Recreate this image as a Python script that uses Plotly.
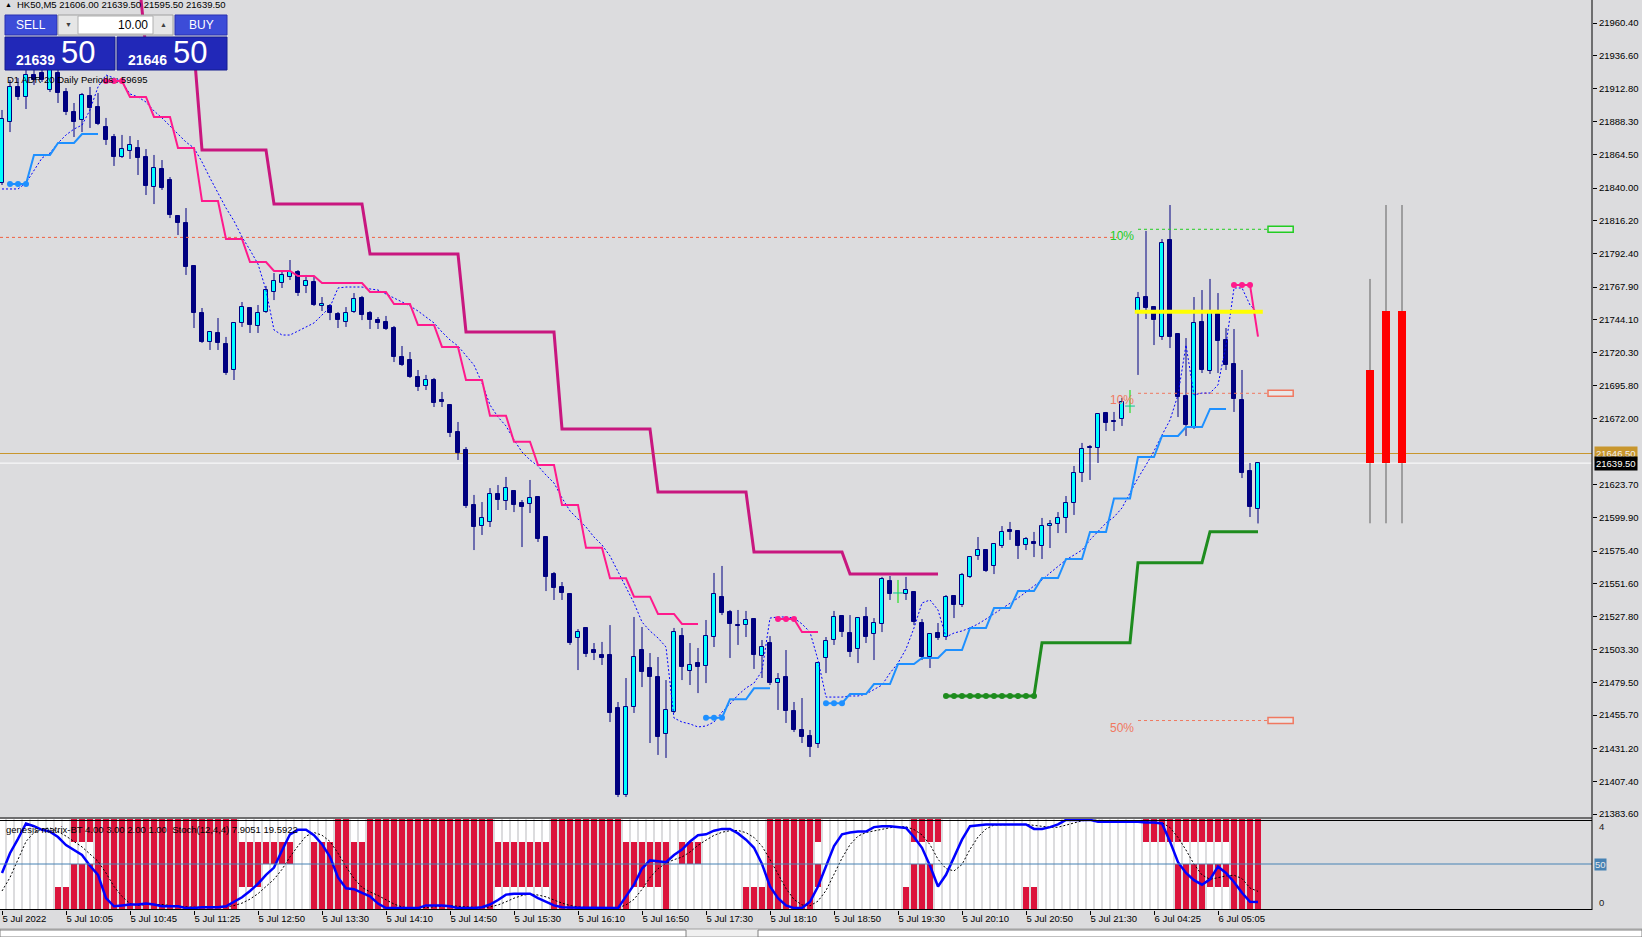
import plotly.graph_objects as go

# ---------------- DATA ----------------
O = [21843.8, 21888.2, 21913.8, 21906.5, 21922.5, 21924.0, 21911.6, 21924.0, 21910.1, 21895.5,
     21889.7, 21907.2, 21899.2, 21884.6, 21877.3, 21862.7, 21867.1, 21869.3, 21862.7, 21840.8,
     21854.0, 21845.9, 21819.7, 21814.6, 21783.2, 21749.0, 21727.8, 21734.4, 21726.4, 21707.4,
     21741.7, 21752.6, 21739.5, 21749.7, 21764.3, 21770.8, 21775.2, 21778.9, 21768.7, 21771.6,
     21754.1, 21754.1, 21748.2, 21742.4, 21749.7, 21759.9, 21749.0, 21743.8, 21742.4, 21738.0,
     21716.9, 21714.7, 21702.3, 21695.7, 21700.1, 21685.5, 21681.9, 21662.2, 21649.1, 21609.0,
     21593.6, 21596.6, 21617.0, 21611.9, 21619.2, 21610.4, 21609.7, 21614.8, 21585.6, 21558.6,
     21549.2, 21544.1, 21512.0, 21519.3, 21503.2, 21499.6, 21499.6, 21460.9, 21397.5, 21461.6,
     21503.2, 21490.1, 21483.5, 21442.0, 21458.0, 21513.4, 21487.9, 21493.7, 21491.5, 21512.7,
     21541.9, 21530.9, 21521.4, 21521.4, 21525.8, 21498.8, 21508.3, 21479.1, 21483.5, 21458.7,
     21444.9, 21440.5, 21434.7, 21497.4, 21510.5, 21528.0, 21515.6, 21503.9, 21527.3, 21514.9,
     21522.2, 21553.5, 21544.8, 21544.1, 21545.5, 21522.9, 21498.1, 21515.6, 21512.7, 21542.6,
     21536.0, 21556.5, 21571.8, 21576.1, 21564.5, 21579.1, 21590.7, 21590.0, 21579.8, 21582.0,
     21579.1, 21593.6, 21595.1, 21599.5, 21610.4, 21632.3, 21651.2, 21650.5, 21676.0, 21670.2,
     21671.7, 21681.1, 21749.7, 21760.6, 21753.3, 21731.5, 21802.2, 21733.6, 21688.4, 21665.8,
     21742.4, 21706.7, 21748.2, 21729.3, 21711.8, 21685.5, 21633.7, 21606.0]
H = [21897.0, 21918.9, 21920.3, 21926.2, 21926.2, 21926.2, 21927.6, 21926.2, 21913.0, 21902.1,
     21909.4, 21913.8, 21909.4, 21891.2, 21879.5, 21878.8, 21878.0, 21875.1, 21868.5, 21864.2,
     21860.5, 21848.1, 21819.7, 21825.5, 21783.2, 21752.6, 21735.1, 21745.3, 21731.5, 21742.4,
     21757.0, 21753.3, 21754.8, 21768.7, 21778.1, 21779.6, 21787.6, 21780.3, 21776.7, 21775.2,
     21760.6, 21755.5, 21749.7, 21753.3, 21763.5, 21761.4, 21750.4, 21746.0, 21746.8, 21739.5,
     21724.9, 21720.5, 21707.4, 21703.8, 21701.6, 21691.4, 21681.9, 21669.5, 21651.2, 21616.3,
     21611.1, 21621.3, 21623.5, 21629.4, 21619.9, 21612.6, 21627.2, 21614.8, 21585.6, 21560.1,
     21552.8, 21544.8, 21518.5, 21519.3, 21508.3, 21509.1, 21521.4, 21465.3, 21482.8, 21527.3,
     21520.0, 21501.0, 21498.1, 21481.3, 21519.3, 21519.3, 21508.3, 21504.7, 21525.1, 21559.4,
     21564.5, 21532.4, 21532.4, 21531.7, 21525.8, 21510.5, 21513.4, 21486.4, 21503.2, 21465.3,
     21468.2, 21444.9, 21494.5, 21512.7, 21531.7, 21528.7, 21528.7, 21527.3, 21534.6, 21526.5,
     21556.5, 21557.2, 21554.3, 21556.5, 21545.5, 21525.8, 21515.6, 21522.9, 21543.3, 21543.3,
     21559.4, 21571.0, 21585.6, 21576.1, 21580.5, 21593.6, 21596.6, 21590.7, 21585.6, 21589.3,
     21599.5, 21598.0, 21603.8, 21615.5, 21637.4, 21654.2, 21652.7, 21676.0, 21676.8, 21676.8,
     21687.0, 21692.8, 21764.3, 21808.8, 21753.3, 21802.9, 21827.7, 21733.6, 21730.7, 21760.6,
     21765.7, 21773.8, 21763.5, 21738.0, 21737.3, 21707.4, 21639.6, 21639.5]
L = [21842.3, 21880.9, 21904.3, 21897.7, 21915.2, 21917.4, 21910.1, 21902.1, 21893.3, 21877.3,
     21880.9, 21883.9, 21886.0, 21871.5, 21856.2, 21862.0, 21861.3, 21849.6, 21835.0, 21828.4,
     21838.7, 21818.2, 21805.8, 21776.7, 21738.0, 21727.1, 21722.0, 21722.0, 21703.8, 21700.1,
     21738.8, 21734.4, 21734.4, 21749.0, 21758.4, 21767.2, 21773.0, 21761.4, 21763.5, 21754.1,
     21750.4, 21743.8, 21738.0, 21738.8, 21749.0, 21743.8, 21737.3, 21737.3, 21736.6, 21713.2,
     21710.3, 21701.6, 21692.1, 21692.8, 21680.4, 21680.4, 21658.5, 21641.8, 21606.8, 21576.1,
     21587.1, 21592.9, 21605.3, 21605.3, 21603.8, 21578.3, 21603.1, 21582.0, 21546.2, 21539.7,
     21539.7, 21506.9, 21488.6, 21498.1, 21495.9, 21492.3, 21450.7, 21396.0, 21396.0, 21457.3,
     21476.2, 21435.4, 21426.7, 21424.5, 21457.3, 21481.3, 21477.7, 21471.8, 21479.1, 21505.4,
     21528.7, 21497.4, 21506.9, 21512.7, 21489.4, 21482.8, 21477.7, 21459.5, 21450.0, 21443.4,
     21435.4, 21425.2, 21431.8, 21486.4, 21506.9, 21512.7, 21498.1, 21493.7, 21508.3, 21495.9,
     21516.3, 21539.7, 21537.5, 21539.7, 21521.4, 21495.9, 21490.1, 21510.5, 21510.5, 21526.5,
     21534.6, 21555.7, 21568.9, 21560.1, 21558.6, 21577.6, 21583.5, 21569.6, 21576.1, 21571.0,
     21569.6, 21577.6, 21588.5, 21588.5, 21601.7, 21625.7, 21627.2, 21639.6, 21662.9, 21662.9,
     21666.6, 21676.0, 21703.8, 21744.6, 21725.6, 21729.3, 21723.4, 21673.1, 21659.3, 21664.4,
     21705.2, 21704.5, 21705.2, 21707.4, 21676.8, 21628.6, 21600.2, 21595.5]
C = [21890.4, 21913.8, 21906.5, 21922.5, 21918.9, 21918.9, 21926.2, 21909.4, 21895.5, 21888.2,
     21907.9, 21898.4, 21886.8, 21875.1, 21862.7, 21868.5, 21871.5, 21862.0, 21841.6, 21854.7,
     21840.1, 21820.4, 21814.6, 21782.5, 21749.0, 21727.8, 21735.1, 21727.1, 21705.2, 21741.7,
     21753.3, 21740.2, 21749.0, 21765.7, 21772.3, 21776.7, 21778.9, 21763.5, 21772.3, 21754.8,
     21755.5, 21749.0, 21743.8, 21749.0, 21759.2, 21747.5, 21743.8, 21741.7, 21737.3, 21716.9,
     21711.0, 21702.3, 21695.0, 21700.1, 21683.3, 21684.1, 21661.5, 21646.9, 21608.2, 21592.9,
     21599.5, 21617.0, 21612.6, 21621.3, 21609.0, 21607.5, 21614.1, 21584.2, 21556.5, 21548.4,
     21544.8, 21508.3, 21516.3, 21500.3, 21501.0, 21497.4, 21457.3, 21397.5, 21461.6, 21498.1,
     21487.2, 21483.5, 21439.8, 21459.5, 21516.3, 21490.8, 21492.3, 21490.8, 21513.4, 21544.1,
     21530.2, 21522.2, 21520.9, 21525.1, 21499.6, 21505.4, 21479.1, 21482.1, 21458.7, 21444.9,
     21439.8, 21432.5, 21493.7, 21509.8, 21527.3, 21516.3, 21501.8, 21526.5, 21512.7, 21522.9,
     21555.0, 21544.1, 21544.8, 21547.0, 21523.6, 21498.1, 21514.9, 21512.0, 21541.9, 21536.0,
     21557.9, 21571.0, 21576.1, 21560.8, 21580.5, 21589.3, 21589.3, 21579.1, 21584.2, 21580.5,
     21593.6, 21595.1, 21599.5, 21610.4, 21632.3, 21649.8, 21650.5, 21675.3, 21668.8, 21669.5,
     21684.1, 21681.1, 21759.9, 21752.6, 21743.8, 21800.0, 21731.5, 21687.7, 21667.3, 21741.7,
     21707.4, 21749.0, 21728.5, 21711.0, 21686.2, 21632.3, 21607.5, 21639.5]

# smoothed trailing line (blue dashed)
trail_mid = [21839.4, 21839.4, 21839.4, 21843.8, 21852.5, 21862.0, 21865.6, 21872.9, 21878.8, 21883.1,
             21886.0, 21897.0, 21913.8, 21922.5, 21920.3, 21917.4, 21908.7, 21906.5, 21902.8, 21896.3,
             21891.2, 21885.3, 21879.5, 21873.6, 21869.3, 21859.1, 21847.4, 21836.5, 21825.5, 21816.1,
             21804.4, 21794.9, 21784.7, 21765.7, 21736.6, 21732.9, 21732.9, 21735.8, 21738.8, 21741.7,
             21747.5, 21753.3, 21767.2, 21767.9, 21767.9, 21767.9, 21766.5, 21765.7, 21762.8, 21759.9,
             21757.0, 21754.1, 21750.4, 21746.0, 21741.7, 21735.1, 21729.3, 21724.9, 21718.3, 21711.0,
             21697.9, 21681.9, 21673.1, 21666.6, 21656.4, 21647.6, 21641.8, 21637.4, 21630.8, 21625.0,
             21614.1, 21604.6, 21598.7, 21592.9, 21585.6, 21579.8, 21571.8, 21560.1, 21548.4, 21537.5,
             21523.6, 21517.1, 21512.0, 21505.4, 21453.6, 21450.7, 21449.3, 21447.1, 21447.8, 21450.7,
             21458.0, 21463.8, 21470.4, 21475.5, 21479.1, 21487.9, 21526.5, 21527.3, 21527.3, 21526.5,
             21522.2, 21516.3, 21495.9, 21468.9, 21468.9, 21468.9, 21469.7, 21469.7, 21471.1, 21474.1,
             21477.7, 21486.4, 21493.7, 21503.9, 21519.3, 21537.5, 21539.7, 21532.4, 21512.7, 21515.6,
             21517.1, 21519.3, 21522.2, 21525.8, 21529.5, 21533.8, 21537.5, 21541.1, 21545.5, 21549.9,
             21554.3, 21559.4, 21564.5, 21568.9, 21572.5, 21576.1, 21583.5, 21589.3, 21595.8, 21600.2,
             21606.8, 21617.7, 21628.6, 21638.1, 21648.3, 21660.0, 21670.9, 21689.2, 21725.6, 21689.2,
             21690.6, 21690.6, 21696.5, 21725.6, 21767.2, 21767.2, 21754.8, 21749.0]

# upper stop line (thin pink) segments: (first bar index, values)
pink_segments = [
    (13, [21918.1]*3 + [21906.5]*3 + [21891.9]*3 + [21869.3]*3 + [21830.6]*3 + [21802.9]*3 +
         [21786.1]*3 + [21779.6]*3 + [21775.9]*3 + [21770.8]*6 + [21764.3]*3 + [21755.5]*3 +
         [21740.2]*3 + [21724.2]*3 + [21700.1]*3 + [21674.1]*3 + [21655.1]*3 + [21638.1]*3 +
         [21609.0]*3 + [21577.8]*3 + [21555.5]*3 + [21542.1]*3 + [21529.5]*3 + [21522.2]*3),
    (97, [21525.8]*3 + [21516.3]*3),
    (154, [21769.4]*3 + [21731.7]),
]
# slow upper stop (thick magenta)
slow_stop_start = 17
slow_stop = ([22000.0] + [21940.7]*7 + [21867.8]*9 + [21828.4]*12 + [21792.0]*12 + [21735.1]*12 +
             [21664.4]*12 + [21618.4]*12 + [21574.7]*12 + [21558.6]*12)
# lower stop line (dodger blue) segments
blue_segments = [
    (1, [21843.0]*3 + [21864.2]*3 + [21872.9]*3 + [21879.5]*3),
    (88, [21453.8]*3 + [21467.3]*3 + [21475.3]*3),
    (103, [21464.4]*3 + [21471.1]*3 + [21478.4]*3 + [21493.0]*3 + [21497.4]*3 + [21503.2]*3 +
          [21519.3]*3 + [21533.8]*3 + [21546.2]*3 + [21555.7]*3 + [21569.6]*3 + [21589.3]*3 +
          [21613.7]*3 + [21643.9]*3 + [21659.3]*3 + [21665.8]*3 + [21679.0]*3),
]
# slow lower stop (green)
green_start = 118
green_stop = [21469.7]*12 + [21508.5]*12 + [21566.9]*9 + [21589.5]*7
green_dot_count = 12

pivot_level = 21749.9          # yellow
pivot_from = 142
ask_price, bid_price = 21646.5, 21639.5
adr_old_level = 21804.1        # red dashed, left part
adr_levels = [21810.0, 21690.4, 21451.8]
adr_level_colors = ['#22CC22', '#F07860', '#F07860']
adr_level_labels = ['10%', '10%', '50%']
adr_level_from = 142

# daily range bars to the right of the last bar (bars after the last candle)
range_offsets = [14, 16, 18]
range_body_lo = [21639.5, 21639.5, 21639.5]
range_body_hi = [21707.4, 21750.4, 21750.4]
range_wick_lo = [21595.6, 21595.6, 21595.6]
range_wick_hi = [21773.8, 21827.7, 21827.7]

# indicator window: genesis matrix rows (runs of bearish/red bars) + stochastic
matrix_red_runs = {
    1: [(7, 29), (39, 61), (69, 78), (83, 83), (93, 101), (113, 116), (128, 129), (147, 150), (154, 157)],
    2: [(9, 32), (39, 83), (96, 102), (114, 116), (147, 157)],
    3: [(12, 36), (39, 83), (85, 87), (96, 101), (154, 157)],
    4: [(9, 29), (42, 43), (46, 61), (69, 77), (96, 102), (114, 117), (143, 157)],
}
stoch_main = [40, 62, 78, 95, 92, 88, 86, 80, 71, 65,
              60, 48, 38, 12, 3, 4, 5, 5, 6, 5,
              3, 3, 3, 1, 1, 2, 2, 2, 3, 8,
              13, 20, 28, 38, 46, 65, 83, 88, 88, 82,
              72, 58, 35, 23, 22, 18, 14, 6, 1, 1,
              1, 1, 1, 4, 4, 4, 3, 1, 1, 1,
              2, 5, 10, 16, 17, 17, 17, 12, 8, 4,
              2, 1.5, 1.5, 1.5, 1.5, 1.5, 1.5, 1, 14, 27,
              45, 54, 53, 52, 60, 66, 75, 82, 83, 87,
              89, 89, 84, 77, 68, 50, 25, 12, 4, 1,
              1, 8, 25, 48, 70, 83, 85, 86, 86, 91,
              92, 92, 91, 90, 80, 68, 48, 25, 38, 58,
              77, 92, 93, 94, 94, 94, 94, 94, 94, 89,
              89, 91, 94, 99, 99, 99, 99, 97, 97, 97,
              97, 97, 97, 96, 96, 95, 75, 52, 40, 32,
              27, 33, 47, 40, 30, 18, 8, 7.9051]
stoch_signal = [20, 35, 55, 75, 85, 89, 90, 86, 81, 75,
                69, 61, 53, 40, 25, 14, 6, 4, 5, 5,
                5, 4, 3, 2.5, 2, 1.5, 1.5, 2, 2.3, 3.8,
                6.5, 11, 17, 25, 33, 44, 58, 70, 81, 85,
                82, 75, 62, 47, 34, 24, 19, 15, 10, 5.5,
                2.3, 1, 1, 1.8, 2.5, 3.3, 3.8, 3, 2.3, 1.5,
                1.3, 2.3, 4.5, 8, 12, 15, 16.8, 15.5, 13.5, 10,
                6.5, 3.9, 2.3, 1.6, 1.5, 1.5, 1.5, 1.4, 4.5, 10.8,
                21.8, 35, 44.8, 51, 54.8, 57.8, 63.3, 70.8, 76.5, 81.8,
                85.3, 87, 87.3, 84.8, 79.5, 69.8, 55, 38.8, 22.8, 10.5,
                4.5, 3.5, 8.8, 20.5, 37.8, 56.5, 71.5, 81, 85, 87,
                88.8, 90.3, 91.5, 91.3, 88.3, 82.3, 71.5, 55.3, 44.8, 42.3,
                49.5, 66.3, 80, 89, 93.3, 93.8, 94, 94, 94, 92.8,
                91.5, 90.8, 90.8, 93.3, 95.8, 98, 99, 98.5, 98, 97.5,
                97, 97, 97, 96.8, 96.5, 96, 90.5, 79.5, 65.5, 49.8,
                37.8, 33, 34.8, 36.8, 37.5, 33.8, 23.3, 19.5922]

time_labels = ["5 Jul 2022", "5 Jul 10:05", "5 Jul 10:45", "5 Jul 11:25", "5 Jul 12:50",
               "5 Jul 13:30", "5 Jul 14:10", "5 Jul 14:50", "5 Jul 15:30", "5 Jul 16:10",
               "5 Jul 16:50", "5 Jul 17:30", "5 Jul 18:10", "5 Jul 18:50", "5 Jul 19:30",
               "5 Jul 20:10", "5 Jul 20:50", "5 Jul 21:30", "6 Jul 04:25", "6 Jul 05:05"]
bars_per_label = 8
price_ticks = [21960.40, 21936.60, 21912.80, 21888.30, 21864.50, 21840.00, 21816.20, 21792.40,
               21767.90, 21744.10, 21720.30, 21695.80, 21672.00, 21623.70, 21599.90, 21575.40,
               21551.60, 21527.80, 21503.30, 21479.50, 21455.70, 21431.20, 21407.40, 21383.60]

symbol_line = "HK50,M5 21606.00 21639.50 21595.50 21639.50"
adr_text = "D1 ADR 20 Daily Periods : 59695"
ind_text = "genesis matrix-BT 4.00 3.00 2.00 1.00  Stoch(12,4,4) 7.9051 19.5922"
lot_text = "10.00"
sell_big, sell_small = "50", "21639"
buy_big, buy_small = "50", "21646"

# ---------------- FIGURE ----------------
W, HGT = 1642, 937
MR, MB = 50, 27
PW, PH = W - MR, HGT - MB
FONT = "Liberation Sans"
BG = "#DCDCDE"
NAVY, CYAN = "#000080", "#00FFFF"
N = len(O)
idx = list(range(N))


def fx(p):
    return p / PW


def fy(p):
    return 1 - p / PH


fig = go.Figure()

bull = [k for k in idx if C[k] > O[k]]
bear = [k for k in idx if C[k] < O[k]]
doji = [k for k in idx if C[k] == O[k]]


def wicks(ks, full=False):
    xs, ys = [], []
    for k in ks:
        top, bot = max(O[k], C[k]), min(O[k], C[k])
        if full:
            xs += [k, k, None]; ys += [L[k], H[k], None]
            continue
        if H[k] > top:
            xs += [k, k, None]; ys += [top, H[k], None]
        if L[k] < bot:
            xs += [k, k, None]; ys += [bot, L[k], None]
    return xs, ys


wx, wy = wicks(bull + bear)
fig.add_trace(go.Scatter(x=wx, y=wy, mode="lines", line=dict(color=NAVY, width=1), hoverinfo="skip"))
dx, dy = wicks(doji, full=True)
fig.add_trace(go.Scatter(x=dx, y=dy, mode="lines", line=dict(color="#00E000", width=1), hoverinfo="skip"))
fig.add_trace(go.Scatter(x=doji, y=[O[k] for k in doji], mode="markers",
                         marker=dict(symbol="line-ew-open", size=7, line=dict(color="#00E000", width=1))))
fig.add_trace(go.Bar(x=bull, y=[C[k] - O[k] for k in bull], base=[O[k] for k in bull], width=0.62,
                     marker=dict(color=CYAN, line=dict(color=NAVY, width=1))))
fig.add_trace(go.Bar(x=bear, y=[O[k] - C[k] for k in bear], base=[C[k] for k in bear], width=0.62,
                     marker=dict(color=NAVY, line=dict(color=NAVY, width=1))))

# daily range bars
rx = [N - 1 + o for o in range_offsets]
fig.add_trace(go.Bar(x=rx, y=[h - l for h, l in zip(range_body_hi, range_body_lo)], base=range_body_lo,
                     width=0.96, marker=dict(color="#FF0000", line=dict(width=0))))
rwx, rwy = [], []
for x, bl, bh, wl, wh in zip(rx, range_body_lo, range_body_hi, range_wick_lo, range_wick_hi):
    rwx += [x, x, None, x, x, None]
    rwy += [bh, wh, None, wl, bl, None]
fig.add_trace(go.Scatter(x=rwx, y=rwy, mode="lines", line=dict(color="#606060", width=1)))

# ADR level lines
fig.add_trace(go.Scatter(x=[-1, adr_level_from - 2.6], y=[adr_old_level]*2, mode="lines",
                         line=dict(color="#F06040", width=1, dash="3px,3px")))
for lv, col in zip(adr_levels, adr_level_colors):
    fig.add_trace(go.Scatter(x=[adr_level_from, N + 0.25], y=[lv, lv], mode="lines",
                             line=dict(color=col, width=1, dash="3px,3px")))

# blue dashed trailing line
fig.add_trace(go.Scatter(x=idx, y=trail_mid, mode="lines", line=dict(color="#0000FF", width=1, dash="2px,2px")))

# slow magenta stop
fig.add_trace(go.Scatter(x=list(range(slow_stop_start, slow_stop_start + len(slow_stop))), y=slow_stop,
                         mode="lines", line=dict(color="#C8177F", width=3)))

# pink stops
for s, vals in pink_segments:
    xs = list(range(s, s + len(vals)))
    fig.add_trace(go.Scatter(x=xs, y=vals, mode="lines", line=dict(color="#FF1A8C", width=2)))
    fig.add_trace(go.Scatter(x=xs[:3], y=vals[:3], mode="markers",
                             marker=dict(color="#FF1A8C", size=6)))
# blue stops
for s, vals in blue_segments:
    xs = list(range(s, s + len(vals)))
    fig.add_trace(go.Scatter(x=xs, y=vals, mode="lines", line=dict(color="#1E90FF", width=2)))
    fig.add_trace(go.Scatter(x=xs[:3], y=vals[:3], mode="markers",
                             marker=dict(color="#1E90FF", size=6)))
# green stop
gx = list(range(green_start, green_start + len(green_stop)))
fig.add_trace(go.Scatter(x=gx, y=green_stop, mode="lines", line=dict(color="#1E8C1E", width=3)))
fig.add_trace(go.Scatter(x=gx[:green_dot_count], y=green_stop[:green_dot_count], mode="markers",
                         marker=dict(color="#1E8C1E", size=6)))
# yellow pivot
fig.add_trace(go.Scatter(x=[pivot_from - 0.4, N - 0.4], y=[pivot_level]*2, mode="lines",
                         line=dict(color="#FFFF00", width=4)))

# ---- indicator window ----
fig.add_trace(go.Bar(x=idx, y=[4]*N, base=[0]*N, width=0.86, marker=dict(color="white", line=dict(width=0)),
                     xaxis="x2", yaxis="y2"))
for row, runs in matrix_red_runs.items():
    ks = [k for a, b in runs for k in range(a, b + 1)]
    fig.add_trace(go.Bar(x=ks, y=[1]*len(ks), base=[row - 1]*len(ks), width=0.86,
                         marker=dict(color="#DC143C", line=dict(width=0)), xaxis="x2", yaxis="y2"))
fig.add_trace(go.Scatter(x=idx, y=stoch_signal, mode="lines", line=dict(color="black", width=1, dash="2px,2px"),
                         xaxis="x2", yaxis="y3"))
fig.add_trace(go.Scatter(x=idx, y=stoch_main, mode="lines", line=dict(color="#0000FF", width=2.5),
                         xaxis="x2", yaxis="y3"))

x_range = [-0.25, (PW - 2) / 8]
shapes = [
    dict(type="line", xref="paper", yref="y", x0=0, x1=1, y0=ask_price, y1=ask_price,
         line=dict(color="#C8962D", width=1), layer="below"),
    dict(type="line", xref="paper", yref="y", x0=0, x1=1, y0=bid_price, y1=bid_price,
         line=dict(color="white", width=1), layer="below"),
    dict(type="line", xref="paper", yref="y3", x0=0, x1=1, y0=50, y1=50, line=dict(color="#4682B4", width=1)),
    dict(type="line", xref="paper", yref="paper", x0=0, x1=1, y0=fy(818), y1=fy(818), line=dict(color="black", width=1)),
    dict(type="line", xref="paper", yref="paper", x0=0, x1=1, y0=fy(820.5), y1=fy(820.5), line=dict(color="black", width=1)),
    dict(type="line", xref="paper", yref="paper", x0=0, x1=1, y0=fy(909.5), y1=fy(909.5), line=dict(color="black", width=1)),
    dict(type="line", xref="paper", yref="paper", x0=1, x1=1, y0=0, y1=1, line=dict(color="black", width=1)),
    # bottom tab strip
    dict(type="rect", xref="paper", yref="paper", x0=0, x1=W / PW, y0=fy(929), y1=fy(937),
         fillcolor="#F0F0F0", line=dict(color="#A0A0A0", width=1)),
    dict(type="rect", xref="paper", yref="paper", x0=0, x1=fx(686), y0=fy(930), y1=fy(937),
         fillcolor="white", line=dict(color="#808080", width=1)),
    dict(type="rect", xref="paper", yref="paper", x0=fx(758), x1=W / PW, y0=fy(930), y1=fy(937),
         fillcolor="white", line=dict(color="#808080", width=1)),
    # one-click trading panel
    dict(type="rect", xref="paper", yref="paper", x0=fx(5), x1=fx(57), y0=fy(35), y1=fy(15),
         fillcolor="#3C4CD8", line=dict(color="#2830B0", width=1)),
    dict(type="rect", xref="paper", yref="paper", x0=fx(175), x1=fx(227), y0=fy(35), y1=fy(15),
         fillcolor="#3C4CD8", line=dict(color="#2830B0", width=1)),
    dict(type="rect", xref="paper", yref="paper", x0=fx(58), x1=fx(173), y0=fy(35), y1=fy(15),
         fillcolor="#E6E6E6", line=dict(color="#A0A0A0", width=1)),
    dict(type="rect", xref="paper", yref="paper", x0=fx(78), x1=fx(153), y0=fy(34), y1=fy(16),
         fillcolor="white", line=dict(color="#B0B0B0", width=1)),
    dict(type="rect", xref="paper", yref="paper", x0=fx(5), x1=fx(115), y0=fy(70), y1=fy(37),
         fillcolor="#2128B8", line=dict(color="#141C90", width=1)),
    dict(type="rect", xref="paper", yref="paper", x0=fx(117), x1=fx(227), y0=fy(70), y1=fy(37),
         fillcolor="#2128B8", line=dict(color="#141C90", width=1)),
]
# level boxes
for lv, col in zip(adr_levels, adr_level_colors):
    shapes.append(dict(type="rect", xref="x", yref="y", x0=N + 0.25, x1=N + 3.4, y0=lv - 2.2, y1=lv + 2.2,
                       fillcolor="rgba(255,255,255,0.35)", line=dict(color=col, width=1.5)))

ann = []


def txt(x, y, s, size=9.5, color="black", xanchor="left", **kw):
    ann.append(dict(x=x, y=y, text=s, showarrow=False, xanchor=xanchor, yanchor="middle",
                    font=dict(family=FONT, size=size, color=color), **kw))


ann_paper = dict(xref="paper", yref="paper")
txt(fx(3), fy(5), "▲", size=7, **ann_paper)
txt(fx(15), fy(5), symbol_line, **ann_paper)
txt(fx(5), fy(79), adr_text, **ann_paper)
txt(fx(4), fy(829), ind_text, **ann_paper)
txt(fx(31), fy(25), "SELL", size=12, color="white", xanchor="center", **ann_paper)
txt(fx(201), fy(25), "BUY", size=12, color="white", xanchor="center", **ann_paper)
txt(fx(150), fy(25), lot_text, size=12, xanchor="right", **ann_paper)
txt(fx(68), fy(24), "▼", size=7, color="#404040", xanchor="center", **ann_paper)
txt(fx(163), fy(24), "▲", size=7, color="#404040", xanchor="center", **ann_paper)
txt(fx(57), fy(60), "<b>" + sell_small + "</b>", size=14, color="white", xanchor="right", **ann_paper)
txt(fx(59), fy(52), sell_big, size=31, color="white", **ann_paper)
txt(fx(169), fy(60), "<b>" + buy_small + "</b>", size=14, color="white", xanchor="right", **ann_paper)
txt(fx(171), fy(52), buy_big, size=31, color="white", **ann_paper)
# level labels
for lv, col, lab in zip(adr_levels, adr_level_colors, adr_level_labels):
    ann.append(dict(x=adr_level_from - 0.2, y=lv, xref="x", yref="y", text=lab, showarrow=False,
                    xanchor="right", yanchor="middle", yshift=-7,
                    font=dict(family=FONT, size=12, color=col)))
# price tags
ann.append(dict(x=fx(1594), y=ask_price, xref="paper", yref="y", text=f"{ask_price:.2f}", showarrow=False,
                xanchor="left", yanchor="middle", bgcolor="#C8962D", borderpad=1,
                font=dict(family=FONT, size=9.5, color="#F0F0F0")))
ann.append(dict(x=fx(1594), y=bid_price, xref="paper", yref="y", text=f"{bid_price:.2f}", showarrow=False,
                xanchor="left", yanchor="middle", bgcolor="black", borderpad=1,
                font=dict(family=FONT, size=9.5, color="white")))
# indicator scale labels
ann.append(dict(x=fx(1597), y=92, xref="paper", yref="y3", text="4", showarrow=False, xanchor="left",
                yanchor="middle", font=dict(family=FONT, size=9.5, color="#202020")))
ann.append(dict(x=fx(1594), y=50, xref="paper", yref="y3", text="50", showarrow=False, xanchor="left",
                yanchor="middle", bgcolor="#4682B4", borderpad=0, font=dict(family=FONT, size=9.5, color="#E8E8E8")))
ann.append(dict(x=fx(1597), y=7, xref="paper", yref="y3", text="0", showarrow=False, xanchor="left",
                yanchor="middle", font=dict(family=FONT, size=9.5, color="#202020")))

fig.update_layout(
    width=W, height=HGT, margin=dict(l=0, r=MR, t=0, b=MB),
    paper_bgcolor=BG, plot_bgcolor=BG, showlegend=False, barmode="overlay", bargap=0,
    font=dict(family=FONT, size=9.5, color="black"),
    xaxis=dict(domain=[0, 1], range=x_range, anchor="y", showticklabels=False, showgrid=False,
               zeroline=False, ticks=""),
    yaxis=dict(domain=[1 - 818 / PH, 1], range=[21977.2 - 0.7292 * 818, 21977.2], side="right",
               tickvals=price_ticks, ticktext=[f"{v:.2f}" for v in price_ticks],
               ticks="outside", ticklen=4, tickcolor="black", showgrid=False, zeroline=False,
               tickfont=dict(family=FONT, size=9.5, color="black")),
    xaxis2=dict(domain=[0, 1], range=x_range, anchor="y2", matches="x", showgrid=False, zeroline=False,
                tickvals=[i * bars_per_label for i in range(len(time_labels))], ticktext=time_labels,
                ticks="outside", ticklen=4, tickcolor="black", ticklabelposition="outside right",
                tickfont=dict(family=FONT, size=9.5, color="black")),
    yaxis2=dict(domain=[0, 1 - 819 / PH], range=[-4 / 90, 4], anchor="x2", showticklabels=False,
                showgrid=False, zeroline=False),
    yaxis3=dict(domain=[0, 1 - 819 / PH], range=[-100 / 90, 100], overlaying="y2", anchor="x2",
                showticklabels=False, showgrid=False, zeroline=False),
    shapes=shapes, annotations=ann,
)

fig.write_html("out.html", config={"displayModeBar": False},
               post_script="document.body.style.margin='0';document.body.style.padding='0';")
